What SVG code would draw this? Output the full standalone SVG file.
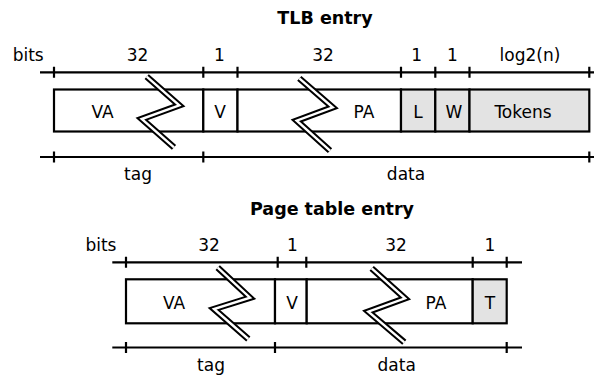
<svg xmlns="http://www.w3.org/2000/svg" width="595" height="376" viewBox="0 0 595 376">
  <style>
    text { font-family: "DejaVu Sans", Verdana, sans-serif; font-size: 17px; fill: #000; }
    .title { font-weight: bold; font-size: 17.5px; text-anchor: middle; }
    .c { text-anchor: middle; }
    .field { fill: #fff; stroke: #000; stroke-width: 2.2; }
    .flag { fill: #e3e3e3; stroke: #000; stroke-width: 2.2; }
    .rule { stroke: #000; stroke-width: 2.2; fill: none; }
    .brk-o { fill: none; stroke: #000; stroke-width: 6.4; stroke-linejoin: miter; stroke-linecap: butt; }
    .brk-i { fill: none; stroke: #fff; stroke-width: 2.4; stroke-linejoin: miter; stroke-linecap: butt; }
  </style>

  <!-- ===== TLB entry ===== -->
  <text class="title" x="325" y="24">TLB entry</text>

  <g id="tlb-rulers">
    <!-- bit-width ruler -->
    <path class="rule" d="M40 72.3H594 M54 66.8V77.8 M203.3 66.8V77.8 M237.5 66.8V77.8 M401 66.8V77.8 M435.3 66.8V77.8 M469.5 66.8V77.8 M589.3 66.8V77.8"/>
    <!-- tag / data ruler -->
    <path class="rule" d="M40 157H594 M54 151.5V162.5 M203.3 151.5V162.5 M589.3 151.5V162.5"/>
    <text x="12.7" y="60.5">bits</text>
    <text class="c" x="137.5" y="60.5">32</text>
    <text class="c" x="219.5" y="60.5">1</text>
    <text class="c" x="323" y="60.5">32</text>
    <text class="c" x="416.7" y="60.5">1</text>
    <text class="c" x="452.5" y="60.5">1</text>
    <text class="c" x="530" y="60.5">log2(n)</text>
    <text class="c" x="138" y="180">tag</text>
    <text class="c" x="406" y="180">data</text>
  </g>

  <g id="tlb-va">
    <rect class="field" x="54" y="89.5" width="149.3" height="42"/>
    <text class="c" x="102.5" y="118.3">VA</text>
  </g>
  <g id="tlb-v">
    <rect class="field" x="203.3" y="89.5" width="34.2" height="42"/>
    <text class="c" x="220" y="118.3">V</text>
  </g>
  <g id="tlb-pa">
    <rect class="field" x="237.5" y="89.5" width="163.5" height="42"/>
    <text class="c" x="364" y="118.3">PA</text>
  </g>
  <g id="tlb-l">
    <rect class="flag" x="401" y="89.5" width="34.3" height="42"/>
    <text class="c" x="418" y="118.3">L</text>
  </g>
  <g id="tlb-w">
    <rect class="flag" x="435.3" y="89.5" width="34.2" height="42"/>
    <text class="c" x="454" y="118.3">W</text>
  </g>
  <g id="tlb-tokens">
    <rect class="flag" x="469.5" y="89.5" width="119.8" height="42"/>
    <text class="c" x="523" y="118.3">Tokens</text>
  </g>

  <!-- break marks on the 32-bit fields -->
  <g id="tlb-breaks">
    <path class="brk-o" d="M146.7 76.7 L179.3 105.3 L141.7 119 L174 147.3"/>
    <path class="brk-i" d="M146.7 76.7 L179.3 105.3 L141.7 119 L174 147.3"/>
    <path class="brk-o" d="M299.3 78.3 L332.7 107.3 L296.7 120.7 L330 150.7"/>
    <path class="brk-i" d="M299.3 78.3 L332.7 107.3 L296.7 120.7 L330 150.7"/>
  </g>

  <!-- ===== Page table entry ===== -->
  <text class="title" x="332" y="215">Page table entry</text>

  <g id="pte-rulers">
    <path class="rule" d="M112.3 262.3H522 M126 256.8V267.8 M277.7 256.8V267.8 M306.3 256.8V267.8 M472.7 256.8V267.8 M506.7 256.8V267.8"/>
    <path class="rule" d="M112.3 347.5H522 M126 342V353 M275 342V353 M506.7 342V353"/>
    <text x="85.4" y="250.7">bits</text>
    <text class="c" x="209" y="250.7">32</text>
    <text class="c" x="292.5" y="250.7">1</text>
    <text class="c" x="396" y="250.7">32</text>
    <text class="c" x="490" y="250.7">1</text>
    <text class="c" x="211" y="370.5">tag</text>
    <text class="c" x="396.7" y="370.5">data</text>
  </g>

  <g id="pte-va">
    <rect class="field" x="126" y="279.3" width="149" height="44"/>
    <text class="c" x="174" y="309.3">VA</text>
  </g>
  <g id="pte-v">
    <rect class="field" x="275" y="279.3" width="31.7" height="44"/>
    <text class="c" x="292" y="309.3">V</text>
  </g>
  <g id="pte-pa">
    <rect class="field" x="306.7" y="279.3" width="166" height="44"/>
    <text class="c" x="436" y="309.3">PA</text>
  </g>
  <g id="pte-t">
    <rect class="flag" x="472.7" y="279.3" width="34" height="44"/>
    <text class="c" x="490" y="309.3">T</text>
  </g>

  <g id="pte-breaks">
    <path class="brk-o" d="M217.7 267.7 L250 297.7 L214 309 L248.3 339"/>
    <path class="brk-i" d="M217.7 267.7 L250 297.7 L214 309 L248.3 339"/>
    <path class="brk-o" d="M371.7 268.3 L405 298.3 L368.3 311.7 L404.3 342.3"/>
    <path class="brk-i" d="M371.7 268.3 L405 298.3 L368.3 311.7 L404.3 342.3"/>
  </g>
</svg>
